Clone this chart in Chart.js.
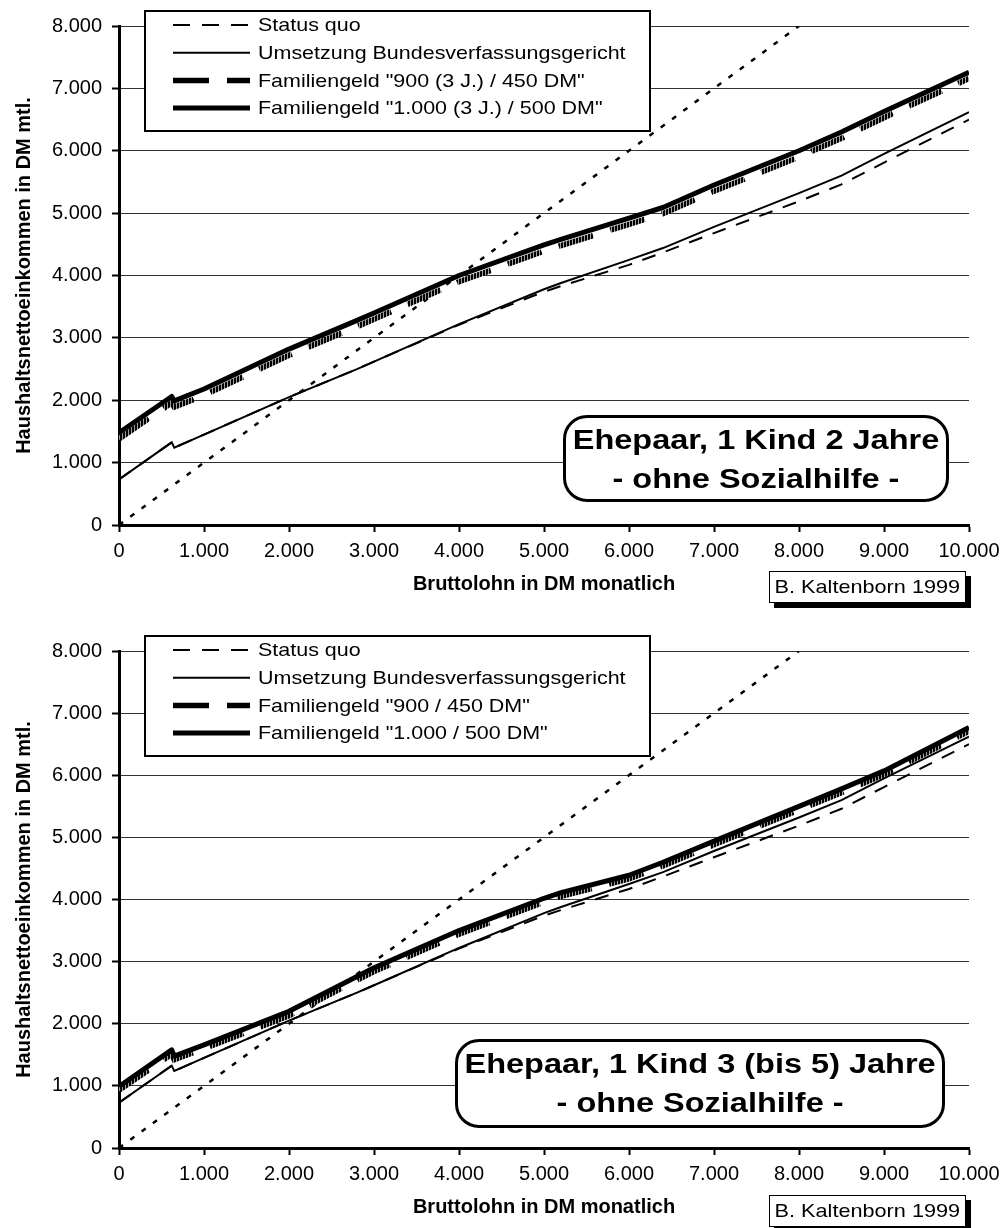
<!DOCTYPE html>
<html>
<head>
<meta charset="utf-8">
<script src="https://cdn.jsdelivr.net/npm/chart.js@4.4.1/dist/chart.umd.min.js"></script>
<style>
  body { margin: 0; background: #fff; width: 1007px; height: 1228px; position: relative; overflow: hidden;
         font-family: "Liberation Sans", Arial, sans-serif; color: #000; }
  canvas { position: absolute; left: 0; }
  #chartTop { top: 0; }
  #chartBottom { top: 625px; }
  .note { position: absolute; box-sizing: border-box; border: 3px solid #000; border-radius: 24px; background: #fff;
          font-weight: bold; font-size: 28px; line-height: 39px; text-align: center; padding-top: 2px; }
  .note .stretch { transform: scaleX(1.16); }
  .credit { position: absolute; box-sizing: border-box; border: 1.5px solid #000; box-shadow: 5px 5px 0 #000;
            background: #fff; font-size: 19px; line-height: 29px; text-align: center; }
  .stretch { display: inline-block; transform: scaleX(1.14); white-space: nowrap; }
</style>
</head>
<body>
<canvas id="chartTop" width="1007" height="614"></canvas>
<canvas id="chartBottom" width="1007" height="603"></canvas>

<div class="note" style="left:563px; top:415px; width:386px; height:87px;">
  <span class="stretch">Ehepaar, 1 Kind 2 Jahre<br>- ohne Sozialhilfe -</span>
</div>
<div class="credit" style="left:769px; top:571px; width:197px; height:32px;">
  <span class="stretch">B. Kaltenborn 1999</span>
</div>

<div class="note" style="left:455px; top:1039px; width:490px; height:89px;">
  <span class="stretch">Ehepaar, 1 Kind 3 (bis 5) Jahre<br>- ohne Sozialhilfe -</span>
</div>
<div class="credit" style="left:769px; top:1195px; width:197px; height:32px;">
  <span class="stretch">B. Kaltenborn 1999</span>
</div>

<script>
// Bruttolohn in DM monatlich
const incomeX = [0, 620, 650, 1000, 2000, 2800, 3000, 4000, 5000, 5200, 6000, 6400, 7000, 8000, 8500, 9000, 10000];

// Haushaltsnettoeinkommen, same in both charts
const statusQuo = [730, 1325, 1240, 1450, 2050, 2500, 2620, 3210, 3740, 3830, 4170, 4370, 4680, 5190, 5460, 5810, 6500];
const bverfg    = [730, 1325, 1240, 1450, 2050, 2500, 2620, 3220, 3780, 3880, 4250, 4440, 4780, 5320, 5600, 5950, 6620];

// child 2 years
const fam900Kind2  = [1380, 1960, 1890, 2080, 2720, 3180, 3300, 3900, 4390, 4480, 4820, 4990, 5350, 5900, 6200, 6530, 7160];
const fam1000Kind2 = [1480, 2060, 1990, 2180, 2820, 3280, 3400, 4000, 4490, 4580, 4920, 5090, 5450, 6000, 6300, 6630, 7260];

// child 3 (to 5) years
const fam900Kind3  = [930, 1510, 1420, 1600, 2130, 2700, 2840, 3440, 3960, 4050, 4330, 4540, 4880, 5440, 5720, 6010, 6710];
const fam1000Kind3 = [990, 1580, 1480, 1660, 2200, 2760, 2900, 3500, 4020, 4110, 4390, 4600, 4940, 5500, 5780, 6070, 6770];

// brutto = netto reference line
const diagonalX = [0, 8000];
const diagonalY = [0, 8000];

const xTickValues = [0, 1000, 2000, 3000, 4000, 5000, 6000, 7000, 8000, 9000, 10000];
const yTickValues = [0, 1000, 2000, 3000, 4000, 5000, 6000, 7000, 8000];

const labelsKind2 = ["Status quo", "Umsetzung Bundesverfassungsgericht",
  'Familiengeld "900 (3 J.) / 450 DM"', 'Familiengeld "1.000 (3 J.) / 500 DM"'];
const labelsKind3 = ["Status quo", "Umsetzung Bundesverfassungsgericht",
  'Familiengeld "900 / 450 DM"', 'Familiengeld "1.000 / 500 DM"'];

Chart.defaults.font.family = '"Liberation Sans", Arial, sans-serif';
Chart.defaults.font.size = 20;
Chart.defaults.color = "#000";

const toPoints = (xs, ys) => xs.map((x, i) => ({ x: x, y: ys[i] }));
const dm = v => v >= 1000 ? Math.floor(v / 1000) + "." + String(v % 1000).padStart(3, "0") : String(v);

function hatchPattern() {
  const c = document.createElement("canvas");
  c.width = 3; c.height = 3;
  const g = c.getContext("2d");
  g.fillStyle = "#000";
  g.fillRect(0, 0, 3, 3);
  g.fillStyle = "#a0a0a0";
  g.fillRect(2, 0, 1, 3);
  return g.createPattern(c, "repeat");
}

// legend box drawn inside the plot area
const legendBox = {
  id: "legendBox",
  afterDatasetsDraw(chart) {
    const ctx = chart.ctx;
    const left = chart.chartArea.left + 26;
    const top = chart.chartArea.top - 15;
    ctx.save();
    ctx.fillStyle = "#fff";
    ctx.fillRect(left, top, 505, 120);
    ctx.lineWidth = 2;
    ctx.strokeStyle = "#000";
    ctx.strokeRect(left, top, 505, 120);
    chart.data.datasets.filter(d => d.legendRow !== undefined).forEach(d => {
      const y = top + 14 + d.legendRow * 27.7;
      ctx.beginPath();
      ctx.setLineDash(d.legendDash || d.borderDash || []);
      ctx.lineWidth = d.borderWidth;
      ctx.strokeStyle = d.legendColor || d.borderColor;
      ctx.moveTo(left + 28, y);
      ctx.lineTo(left + 105, y);
      ctx.stroke();
      ctx.setLineDash([]);
      ctx.fillStyle = "#000";
      ctx.font = '19px "Liberation Sans", Arial, sans-serif';
      ctx.textBaseline = "middle";
      ctx.save();
      ctx.translate(left + 113, y + 1);
      ctx.scale(1.13, 1);
      ctx.fillText(d.label, 0, 0);
      ctx.restore();
    });
    ctx.restore();
  }
};

function makeChart(id, fam900, fam1000, labels, bottomPad) {
  const ctx = document.getElementById(id).getContext("2d");
  return new Chart(ctx, {
    type: "line",
    data: {
      datasets: [
        { label: labels[3], legendRow: 3, data: toPoints(incomeX, fam1000),
          borderColor: "#000", borderWidth: 5, borderJoinStyle: "round" },
        { label: labels[2], legendRow: 2, data: toPoints(incomeX, fam900),
          borderColor: hatchPattern(), legendColor: "#000", borderWidth: 5.5, borderDash: [36, 18] },
        { label: labels[1], legendRow: 1, data: toPoints(incomeX, bverfg),
          borderColor: "#000", borderWidth: 2 },
        { label: labels[0], legendRow: 0, data: toPoints(incomeX, statusQuo),
          borderColor: "#000", borderWidth: 2, borderDash: [14, 11], legendDash: [17, 12] },
        { label: "45°", data: toPoints(diagonalX, diagonalY),
          borderColor: "#000", borderWidth: 2.5, borderDash: [5, 9] }
      ]
    },
    options: {
      responsive: false,
      animation: false,
      devicePixelRatio: 1,
      events: [],
      elements: { point: { radius: 0 }, line: { tension: 0, fill: false } },
      layout: { padding: { top: 26, left: 0, right: 38, bottom: bottomPad } },
      scales: {
        x: {
          type: "linear",
          min: 0,
          max: 10000,
          afterBuildTicks: s => { s.ticks = xTickValues.map(v => ({ value: v })); },
          afterFit: s => { s.height = 75; },
          ticks: { callback: dm, padding: 7, maxRotation: 0, autoSkip: false },
          grid: { drawOnChartArea: false, drawTicks: true, tickLength: 7, tickWidth: 2, tickColor: "#000" },
          border: { display: true, color: "#000", width: 3 },
          title: { display: true, text: "Bruttolohn in DM monatlich",
                   font: { weight: "bold", size: 20 }, padding: { top: 4, bottom: 4 } }
        },
        y: {
          min: 0,
          max: 8000,
          afterBuildTicks: s => { s.ticks = yTickValues.map(v => ({ value: v })); },
          afterFit: s => { s.width = 119; },
          ticks: { callback: dm, padding: 10 },
          grid: { color: "#333", lineWidth: 1, drawTicks: true, tickLength: 7, tickWidth: 2, tickColor: "#000" },
          border: { display: true, color: "#000", width: 3 },
          title: { display: true, text: "Haushaltsnettoeinkommen in DM mtl.",
                   font: { weight: "bold", size: 20 }, padding: { top: 12, bottom: 4 } }
        }
      },
      plugins: { legend: { display: false }, tooltip: { enabled: false } }
    },
    plugins: [legendBox]
  });
}

makeChart("chartTop", fam900Kind2, fam1000Kind2, labelsKind2, 14);
makeChart("chartBottom", fam900Kind3, fam1000Kind3, labelsKind3, 5);
</script>
</body>
</html>
